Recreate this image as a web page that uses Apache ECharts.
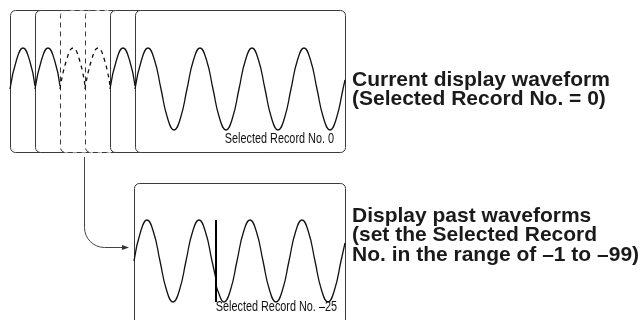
<!DOCTYPE html>
<html>
<head>
<meta charset="utf-8">
<script src="https://cdn.jsdelivr.net/npm/echarts@6/dist/echarts.min.js"></script>
<style>
html,body{margin:0;padding:0;background:#fff;}
#chart{width:643px;height:320px;}
</style>
</head>
<body>
<div id="chart"></div>
<script>
// ---------- DATA (diagram units = pixels of the reference) ----------
// stacked history frames (top), left edges; the last one is the current display
var topFrameLefts = [10, 35, 60, 85, 110, 135];
var topFrameRight = 345, topFrameTop = 10, topFrameBottom = 152;
// lower (past) frame
var pastFrame = [134, 183, 345, 332];

// current waveform (top frame)
var curWaveX = [135,141.5,148,154.5,161,167.5,174,180.5,187,193.5,200,206.5,213,219.5,226,232.5,239,245.5,252,258.5,265,271.5,278,284.5,291,297.5,304,310.5,317,323.5,330,336.5,343,345];
var curWaveY = [89,60,48,60,89,118,130,118,89,60,48,60,89,118,130,118,89,60,48,60,89,118,130,118,89,60,48,60,89,118,130,118,89,80];
// visible part of each older frame's waveform (offset from its frame's left edge)
var oldWaveDX = [0, 6.5, 13, 19.5, 25];
var oldWaveY  = [89, 60, 48, 60, 86];

// past waveform (lower frame), before and after the record boundary
var pastWaveAX = [134,140.5,147,153.5,160,166.5,173,179.5,186,192.5,199,205.5,212,216];
var pastWaveAY = [261,232,220,232,261,290,302,290,261,232,220,232,261,279];
var pastWaveBX = [216,217.5,224,230.5,237,243.5,250,256.5,263,269.5,276,282.5,289,295.5,302,308.5,315,321.5,328,334.5,341,345];
var pastWaveBY = [284,290,302,290,261,232,220,232,261,290,302,290,261,232,220,232,261,290,302,290,261,243];
// boundary marker
var markerX = 216, markerY = [220, 302];
// connector from dashed frame to the past frame
var connector = {x: 84, yTop: 157, yArrow: 247, xTip: 129};

var labelCurrent = 'Selected Record No. 0';
var labelPast = 'Selected Record No. \u201325';
var textCurrent = ['Current display waveform', '(Selected Record No. = 0)'];
var textPast = ['Display past waveforms', '(set the Selected Record', 'No. in the range of \u20131 to \u201399)'];

// ---------- STYLE ----------
var dashedFrames = [2, 3];
var frameColor = '#3a3a3a';
var waveColor = '#111';

var chart = echarts.init(document.getElementById('chart'), null, {renderer: 'canvas'});

var frameRows = topFrameLefts.map(function (l, i) {
  return [l, topFrameTop, (i === topFrameLefts.length - 1 ? topFrameRight : l + 210), topFrameBottom, i];
});
frameRows.push([pastFrame[0], pastFrame[1], pastFrame[2], pastFrame[3], -1]);

function zip(xs, ys) { return xs.map(function (x, i) { return [x, ys[i]]; }); }

var series = [];
series.push({
  type: 'custom',
  z: 1,
  silent: true,
  data: frameRows,
  encode: {x: [0, 2], y: [1, 3]},
  renderItem: function (params, api) {
    var p0 = api.coord([api.value(0), api.value(1)]);
    var p1 = api.coord([api.value(2), api.value(3)]);
    var idx = api.value(4);
    var dashed = dashedFrames.indexOf(idx) >= 0;
    return {
      type: 'rect',
      shape: {x: Math.round(p0[0]) + 0.5, y: Math.round(p0[1]) + 0.5, width: Math.round(p1[0] - p0[0]), height: Math.round(p1[1] - p0[1]), r: 5},
      style: {fill: '#fff', stroke: frameColor, lineWidth: 1, lineDash: dashed ? [5, 4] : null}
    };
  }
});

topFrameLefts.slice(0, topFrameLefts.length - 1).forEach(function (l, i) {
  var dashed = dashedFrames.indexOf(i) >= 0;
  series.push({
    type: 'line', z: 3, silent: true, showSymbol: false, smooth: 0.5,
    data: oldWaveDX.map(function (d, k) { return [l + d, oldWaveY[k]]; }),
    lineStyle: {color: waveColor, width: 1.3, type: dashed ? [4, 4] : 'solid'}
  });
});
series.push({type: 'line', z: 3, silent: true, showSymbol: false, smooth: 0.5,
  data: zip(curWaveX, curWaveY), lineStyle: {color: waveColor, width: 1.3}});
series.push({type: 'line', z: 3, silent: true, showSymbol: false, smooth: 0.5,
  data: zip(pastWaveAX, pastWaveAY), lineStyle: {color: waveColor, width: 1.3}});
series.push({type: 'line', z: 3, silent: true, showSymbol: false, smooth: 0.5,
  data: zip(pastWaveBX, pastWaveBY), lineStyle: {color: waveColor, width: 1.3}});
series.push({type: 'line', z: 4, silent: true, showSymbol: false,
  data: [[markerX, markerY[0]], [markerX, markerY[1]]], lineStyle: {color: '#000', width: 2}});

// connector with arrow
series.push({
  type: 'custom', z: 2, silent: true,
  data: [[connector.x, connector.yTop, connector.yArrow, connector.xTip]],
  encode: {x: [0, 3], y: [1, 2]},
  renderItem: function (params, api) {
    var a = api.coord([api.value(0), api.value(1)]);
    var b = api.coord([api.value(0), api.value(2)]);
    var t = api.coord([api.value(3), api.value(2)]);
    var r = 20;
    var x = Math.round(a[0]) + 0.5, y = Math.round(b[1]) + 0.5;
    var path = 'M' + x + ',' + a[1] + ' L' + x + ',' + (y - r) +
      ' C' + x + ',' + (y - r * 0.45) + ' ' + (x + r * 0.45) + ',' + y + ' ' + (x + r) + ',' + y +
      ' L' + (t[0] - 5) + ',' + y;
    return {
      type: 'group',
      children: [
        {type: 'path', shape: {pathData: path}, style: {fill: null, stroke: '#444', lineWidth: 1}},
        {type: 'polygon', shape: {points: [[t[0], y], [t[0] - 7, y - 2.5], [t[0] - 7, y + 2.5]]}, style: {fill: '#333'}}
      ]
    };
  }
});

var bigFont = 'bold 21px "Liberation Sans", Arial, sans-serif';
var smallFont = '14px "Liberation Sans", Arial, sans-serif';

var option = {
  animation: false,
  backgroundColor: '#fff',
  grid: {left: 0, right: 0, top: 0, bottom: 0},
  xAxis: {type: 'value', min: 0, max: 643, show: false},
  yAxis: {type: 'value', min: 0, max: 320, inverse: true, show: false},
  series: series,
  graphic: [
    {type: 'text', z: 10, x: 334, y: 139, scaleX: 0.775, style: {text: labelCurrent, font: smallFont, fill: '#111', textAlign: 'right', textVerticalAlign: 'middle'}},
    {type: 'text', z: 10, x: 337, y: 307.5, scaleX: 0.775, style: {text: labelPast, font: smallFont, fill: '#111', textAlign: 'right', textVerticalAlign: 'middle'}},
    {type: 'text', z: 10, x: 352, y: 70, style: {text: textCurrent.join('\n'), font: bigFont, lineHeight: 19.5, fill: '#1a1a1a', textAlign: 'left', textVerticalAlign: 'top'}},
    {type: 'text', z: 10, x: 352, y: 206, style: {text: textPast.join('\n'), font: bigFont, lineHeight: 19.5, fill: '#1a1a1a', textAlign: 'left', textVerticalAlign: 'top'}}
  ]
};
chart.setOption(option);
</script>
</body>
</html>
